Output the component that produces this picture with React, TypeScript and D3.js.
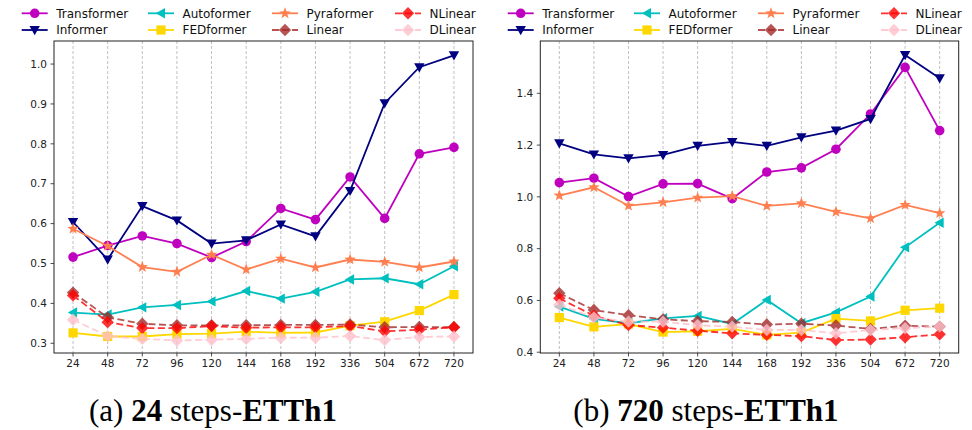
import React from "react";
import * as d3 from "d3";

// Forecast horizons (x axis categories)
const horizons = ["24", "48", "72", "96", "120", "144", "168", "192", "336", "504", "672", "720"];

// Panel (a): 24 steps-ETTh1
const a_transformer = [0.516, 0.545, 0.569, 0.55, 0.515, 0.555, 0.638, 0.61, 0.717, 0.613, 0.775, 0.791];
const a_informer = [0.604, 0.51, 0.644, 0.608, 0.55, 0.558, 0.598, 0.568, 0.682, 0.902, 0.992, 1.022];
const a_autoformer = [0.377, 0.372, 0.39, 0.396, 0.405, 0.431, 0.412, 0.429, 0.46, 0.463, 0.448, 0.493];
const a_fedformer = [0.326, 0.317, 0.317, 0.323, 0.324, 0.329, 0.326, 0.327, 0.344, 0.354, 0.382, 0.422];
const a_pyraformer = [0.587, 0.544, 0.491, 0.479, 0.522, 0.485, 0.512, 0.49, 0.51, 0.504, 0.49, 0.505];
const a_linear = [0.427, 0.365, 0.349, 0.345, 0.345, 0.345, 0.346, 0.346, 0.347, 0.34, 0.341, 0.34];
const a_nlinear = [0.42, 0.353, 0.338, 0.338, 0.343, 0.339, 0.34, 0.34, 0.343, 0.33, 0.334, 0.34];
const a_dlinear = [0.359, 0.318, 0.311, 0.307, 0.309, 0.311, 0.314, 0.314, 0.318, 0.308, 0.316, 0.317];

// Panel (b): 720 steps-ETTh1
const b_transformer = [1.055, 1.072, 1.001, 1.05, 1.051, 0.993, 1.096, 1.112, 1.184, 1.32, 1.5, 1.256];
const b_informer = [1.207, 1.164, 1.149, 1.162, 1.197, 1.212, 1.197, 1.23, 1.256, 1.301, 1.548, 1.458];
const b_autoformer = [0.576, 0.529, 0.512, 0.531, 0.54, 0.509, 0.602, 0.512, 0.554, 0.615, 0.805, 0.9];
const b_fedformer = [0.534, 0.498, 0.509, 0.478, 0.481, 0.49, 0.467, 0.476, 0.53, 0.521, 0.562, 0.57];
const b_pyraformer = [1.005, 1.037, 0.966, 0.979, 0.997, 1.003, 0.965, 0.975, 0.942, 0.917, 0.969, 0.937];
const b_linear = [0.628, 0.563, 0.543, 0.527, 0.52, 0.517, 0.507, 0.51, 0.503, 0.49, 0.502, 0.499];
const b_nlinear = [0.608, 0.541, 0.505, 0.495, 0.483, 0.473, 0.467, 0.462, 0.447, 0.449, 0.458, 0.469];
const b_dlinear = [0.583, 0.534, 0.518, 0.518, 0.504, 0.499, 0.486, 0.486, 0.473, 0.486, 0.493, 0.499];

// Y tick labels
const a_yticks = [0.3, 0.4, 0.5, 0.6, 0.7, 0.8, 0.9, 1.0];
const b_yticks = [0.4, 0.6, 0.8, 1.0, 1.2, 1.4];

type Marker = "circle" | "tridown" | "trileft" | "square" | "star" | "diamond";
type Style = { name: string; color: string; marker: Marker; dashed: boolean; opacity: number };

const styles: Style[] = [
  { name: "Transformer", color: "#bf00bf", marker: "circle", dashed: false, opacity: 1 },
  { name: "Informer", color: "#000080", marker: "tridown", dashed: false, opacity: 1 },
  { name: "Autoformer", color: "#00bfbf", marker: "trileft", dashed: false, opacity: 1 },
  { name: "FEDformer", color: "#ffd700", marker: "square", dashed: false, opacity: 1 },
  { name: "Pyraformer", color: "#ff7f50", marker: "star", dashed: false, opacity: 1 },
  { name: "Linear", color: "#a52a2a", marker: "diamond", dashed: true, opacity: 0.8 },
  { name: "NLinear", color: "#ff0000", marker: "diamond", dashed: true, opacity: 0.8 },
  { name: "DLinear", color: "#ffc0cb", marker: "diamond", dashed: true, opacity: 0.8 },
];

function markerPath(m: Marker): string {
  switch (m) {
    case "circle":
      return d3.symbol(d3.symbolCircle, Math.PI * 4.8 * 4.8)()!;
    case "tridown":
      return "M0,5.2L-5.2,-4L5.2,-4Z";
    case "trileft":
      return "M-5.2,0L4,-5.2L4,5.2Z";
    case "square":
      return "M-4.6,-4.6H4.6V4.6H-4.6Z";
    case "star": {
      const pts: string[] = [];
      for (let i = 0; i < 10; i++) {
        const r = i % 2 === 0 ? 6 : 2.5;
        const a = -Math.PI / 2 + (i * Math.PI) / 5;
        pts.push(`${(r * Math.cos(a)).toFixed(2)},${(r * Math.sin(a)).toFixed(2)}`);
      }
      return "M" + pts.join("L") + "Z";
    }
    case "diamond":
      return "M0,-6.2L6.2,0L0,6.2L-6.2,0Z";
  }
}

const FONT = "'DejaVu Sans', sans-serif";
const SERIF = "'Liberation Serif', 'Times New Roman', serif";

function Legend({ x0 }: { x0: number }) {
  const cols = [21.7, 148, 272, 395];
  const rows = [13.3, 30];
  return (
    <g>
      {styles.map((s, i) => {
        const cx = x0 + cols[Math.floor(i / 2)];
        const cy = rows[i % 2];
        return (
          <g key={s.name}>
            <line
              x1={cx}
              x2={cx + 26}
              y1={cy}
              y2={cy}
              stroke={s.color}
              strokeWidth={1.8}
              strokeDasharray={s.dashed ? "7,3" : undefined}
              opacity={s.opacity}
            />
            <path d={markerPath(s.marker)} transform={`translate(${cx + 13},${cy})`} fill={s.color} opacity={s.opacity} />
            <text x={cx + 34.5} y={cy} dy="0.35em" fontFamily={FONT} fontSize={12} fill="#111">
              {s.name}
            </text>
          </g>
        );
      })}
    </g>
  );
}

function Panel({
  left,
  right,
  yDomain,
  yTicks,
  series,
}: {
  left: number;
  right: number;
  yDomain: [number, number];
  yTicks: number[];
  series: number[][];
}) {
  const top = 41;
  const bottom = 353;
  const x = d3.scaleLinear().domain([-0.55, horizons.length - 1 + 0.55]).range([left, right]);
  const y = d3.scaleLinear().domain(yDomain).range([bottom, top]);
  const line = d3
    .line<number>()
    .x((_, i) => x(i))
    .y((v) => y(v));
  return (
    <g>
      {/* vertical dashed grid */}
      {horizons.map((h, i) => (
        <line key={h} x1={x(i)} x2={x(i)} y1={top} y2={bottom} stroke="#b0b0b0" strokeWidth={0.8} strokeDasharray="3,2" />
      ))}
      {/* series */}
      {series.map((vals, k) => {
        const s = styles[k];
        return (
          <g key={s.name} opacity={s.opacity}>
            <path
              d={line(vals)!}
              fill="none"
              stroke={s.color}
              strokeWidth={1.8}
              strokeDasharray={s.dashed ? "7,3.5" : undefined}
            />
            {vals.map((v, i) => (
              <path key={i} d={markerPath(s.marker)} transform={`translate(${x(i)},${y(v)})`} fill={s.color} />
            ))}
          </g>
        );
      })}
      {/* frame */}
      <rect x={left} y={top} width={right - left} height={bottom - top} fill="none" stroke="#222" strokeWidth={1} />
      {/* x ticks */}
      {horizons.map((h, i) => (
        <g key={h} transform={`translate(${x(i)},${bottom})`}>
          <line y1={0} y2={3.5} stroke="#222" strokeWidth={0.8} />
          <text y={14} textAnchor="middle" fontFamily={FONT} fontSize={10.5} fill="#222">
            {h}
          </text>
        </g>
      ))}
      {/* y ticks */}
      {yTicks.map((t) => (
        <g key={t} transform={`translate(${left},${y(t)})`}>
          <line x1={-3.5} x2={0} stroke="#222" strokeWidth={0.8} />
          <text x={-7} dy="0.35em" textAnchor="end" fontFamily={FONT} fontSize={10.5} fill="#222">
            {t.toFixed(1)}
          </text>
        </g>
      ))}
    </g>
  );
}

function Caption({ x, tag, steps }: { x: number; tag: string; steps: string }) {
  return (
    <text x={x} y={421} textAnchor="middle" fontFamily={SERIF} fontSize={31} fill="#000">
      <tspan>({tag}) </tspan>
      <tspan fontWeight="bold">{steps}</tspan>
      <tspan> steps-</tspan>
      <tspan fontWeight="bold">ETTh1</tspan>
    </text>
  );
}

export default function App() {
  const aSeries = [a_transformer, a_informer, a_autoformer, a_fedformer, a_pyraformer, a_linear, a_nlinear, a_dlinear];
  const bSeries = [b_transformer, b_informer, b_autoformer, b_fedformer, b_pyraformer, b_linear, b_nlinear, b_dlinear];
  return (
    <svg width={972} height={430} style={{ position: "absolute", left: 0, top: 0, background: "#fff" }}>
      <rect width={972} height={430} fill="#fff" />
      <Legend x0={0} />
      <Legend x0={486} />
      <Panel left={54} right={473} yDomain={[0.2756, 1.0578]} yTicks={a_yticks} series={aSeries} />
      <Panel left={540.3} right={958.7} yDomain={[0.397, 1.602]} yTicks={b_yticks} series={bSeries} />
      <Caption x={213} tag="a" steps="24" />
      <Caption x={706} tag="b" steps="720" />
    </svg>
  );
}
